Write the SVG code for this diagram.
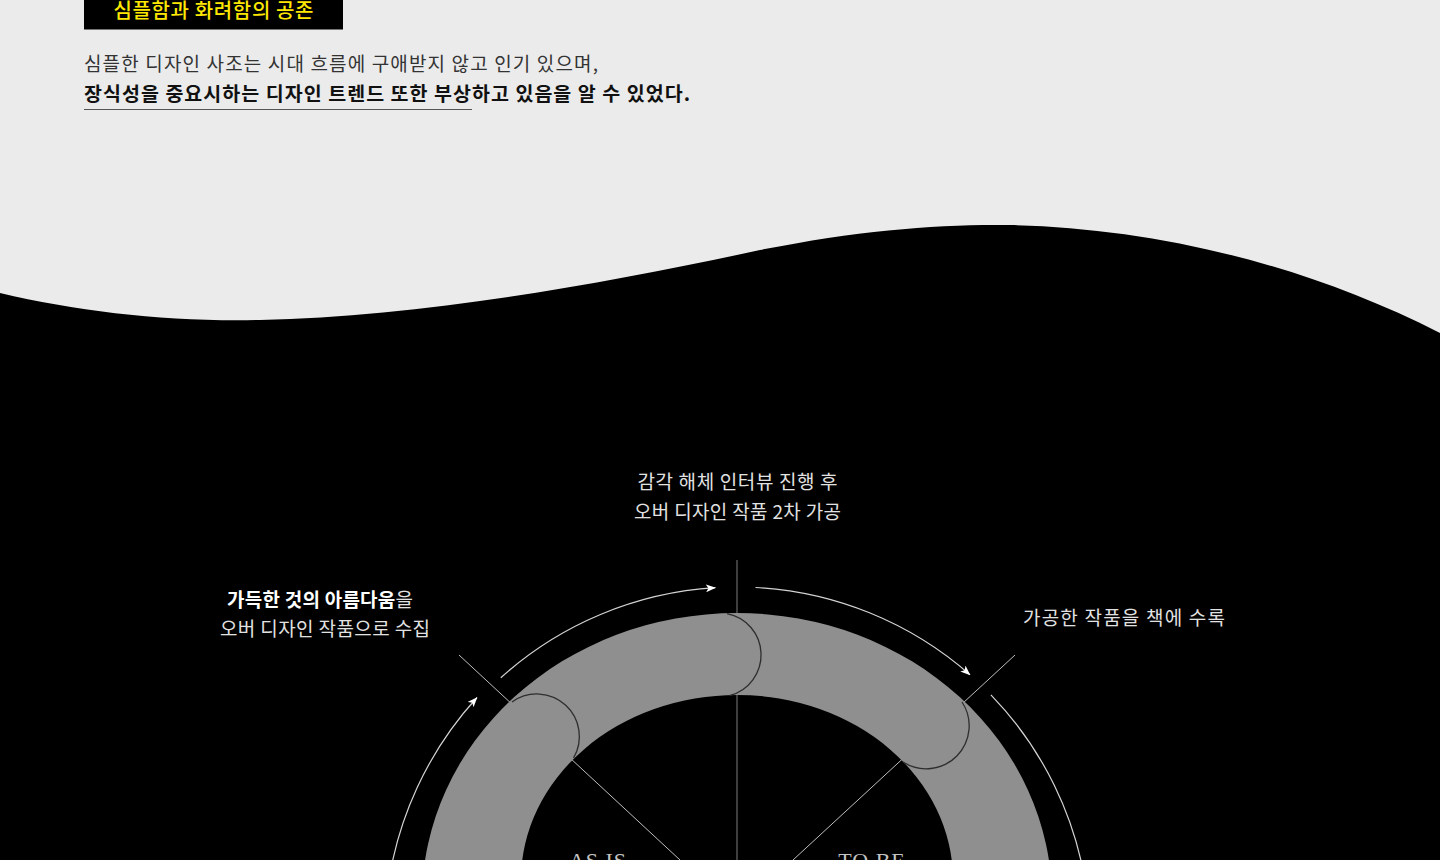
<svg xmlns="http://www.w3.org/2000/svg" width="1440" height="860" viewBox="0 0 1440 860">
  <style>
    .kr { font-family: "Noto Sans CJK KR", "Noto Sans", sans-serif; }
    .intro { font-size: 19px; fill: #333; }
    .introb { font-size: 19.5px; fill: #111; font-weight: 700; }
    .lbl { font-size: 19px; fill: #e2e2e2; }
    .lblb { font-weight: 700; fill: #ffffff; }
    .tick { stroke: #bdbdbd; stroke-width: 1; fill: none; }
    .axis { stroke: #7d7d7d; stroke-width: 1; fill: none; }
    .flow { stroke: #d4d4d4; stroke-width: 1.2; fill: none; }
    .cap { stroke: #2e2e2e; stroke-width: 1.3; fill: none; }
    .phase { font-family: "Liberation Serif", serif; font-size: 22px; fill: #c4c4c4; letter-spacing: 1px; }
  </style>
  <defs>
    <marker id="arr" viewBox="0 0 10 8" refX="9.5" refY="4" markerWidth="10" markerHeight="8" markerUnits="userSpaceOnUse" orient="auto">
      <path d="M0,0 L10,4 L0,8 L2.5,4 Z" fill="#ffffff"/>
    </marker>
  </defs>

  <rect id="background" x="0" y="0" width="1440" height="860" fill="#ebebeb"/>

  <g id="wave">
    <path d="M0,293 C80,312 170,322 260,320 C420,316 600,285 760,250 C860,230 940,224 1010,225 C1150,228 1300,262 1440,333 L1440,860 L0,860 Z" fill="#000"/>
  </g>

  <g id="title-tag">
    <rect x="84" y="0" width="259" height="29.5" fill="#000"/>
    <text class="kr" x="213.5" y="18" font-size="20" font-weight="500" fill="#ffe800" text-anchor="middle" textLength="200" lengthAdjust="spacing">심플함과 화려함의 공존</text>
  </g>

  <g id="intro-text">
    <text class="kr intro" x="84" y="70.5" textLength="514" lengthAdjust="spacing">심플한 디자인 사조는 시대 흐름에 구애받지 않고 인기 있으며,</text>
    <text class="kr introb" x="84" y="100.5" textLength="606" lengthAdjust="spacing">장식성을 중요시하는 디자인 트렌드 또한 부상하고 있음을 알 수 있었다.</text>
    <line x1="84" y1="109.5" x2="472" y2="109.5" stroke="#555" stroke-width="1"/>
  </g>

  <g id="connectors">
    <line class="axis" x1="737" y1="560" x2="737" y2="860"/>
    <line class="tick" x1="459" y1="655" x2="680" y2="860"/>
    <line class="tick" x1="1015" y1="655" x2="793" y2="860"/>
    <path class="flow" d="M500.8,677.7 A353,353 0 0 1 715.4,587.7" marker-end="url(#arr)"/>
    <path class="flow" d="M755.5,587.5 A353,353 0 0 1 970,674.8" marker-end="url(#arr)"/>
    <path class="flow" d="M990.9,694.8 A353,353 0 0 1 1086.6,890.9"/>
    <path class="flow" d="M387.4,890.9 A354,354 0 0 1 477,697.5" marker-end="url(#arr)"/>
  </g>

  <g id="cycle-ring">
    <path d="M422,900 A315,287 0 1 1 1052,900 A315,287 0 1 1 422,900 Z M521,880 A216,185 0 1 0 953,880 A216,185 0 1 0 521,880 Z" fill="#8f8f8f" fill-rule="evenodd"/>
  </g>
  <g id="segment-collect">
    <path class="cap" d="M512,702 A42.5,42.5 0 0 1 573.5,758"/>
  </g>
  <g id="segment-process">
    <path class="cap" d="M727,613.6 A42,42 0 0 1 730,695.4"/>
  </g>
  <g id="segment-record">
    <path class="cap" d="M962,702 A43,43 0 0 1 903,762"/>
  </g>

  <g id="label-process">
    <text class="kr lbl" x="737.5" y="488.5" text-anchor="middle" textLength="200" lengthAdjust="spacing">감각 해체 인터뷰 진행 후</text>
    <text class="kr lbl" x="737.5" y="518.5" text-anchor="middle" textLength="207" lengthAdjust="spacing">오버 디자인 작품 2차 가공</text>
  </g>

  <g id="label-collect">
    <text class="kr lbl" x="320" y="606.5" text-anchor="middle" textLength="186" lengthAdjust="spacing"><tspan class="lblb">가득한 것의 아름다움</tspan>을</text>
    <text class="kr lbl" x="325" y="636" text-anchor="middle" textLength="210" lengthAdjust="spacing">오버 디자인 작품으로 수집</text>
  </g>

  <g id="label-record">
    <text class="kr lbl" x="1124" y="624.5" text-anchor="middle" textLength="202" lengthAdjust="spacing">가공한 작품을 책에 수록</text>
  </g>

  <g id="label-asis">
    <text class="phase" x="598" y="868" text-anchor="middle">AS IS</text>
  </g>
  <g id="label-tobe">
    <text class="phase" x="872" y="868" text-anchor="middle">TO BE</text>
  </g>
</svg>
